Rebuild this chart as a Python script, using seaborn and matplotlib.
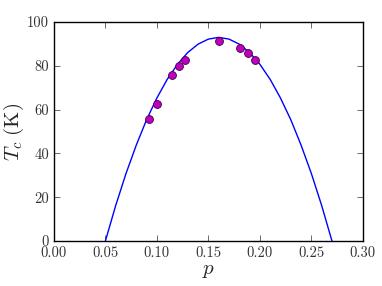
import matplotlib
matplotlib.use("Agg")
import matplotlib.pyplot as plt
import seaborn as sns
import pandas as pd

# measured data points
p_data = [0.092, 0.100, 0.115, 0.121, 0.127, 0.160, 0.181, 0.188, 0.195]
tc_data = [55.8, 62.7, 75.7, 79.8, 82.8, 91.2, 88.3, 85.7, 82.5]

# dome curve
p_curve = [0.05, 0.06, 0.07, 0.08, 0.09, 0.10, 0.11, 0.12, 0.13, 0.14, 0.15,
           0.16, 0.17, 0.18, 0.19, 0.20, 0.21, 0.22, 0.23, 0.24, 0.25, 0.26, 0.27]
tc_curve = [0.0, 16.2, 30.8, 43.8, 55.4, 65.3, 73.8, 80.7, 86.1, 89.9, 92.2,
            93.0, 92.2, 89.9, 86.1, 80.7, 73.8, 65.3, 55.4, 43.8, 30.8, 16.2, 0.0]

xticks = [0.00, 0.05, 0.10, 0.15, 0.20, 0.25, 0.30]
yticks = [0, 20, 40, 60, 80, 100]

sns.set_style("ticks")
plt.rcParams.update({
    "font.family": ["cmr10", "DejaVu Serif"],
    "mathtext.fontset": "cm",
    "axes.formatter.use_mathtext": True,
    "axes.edgecolor": "black",
    "axes.linewidth": 1.0,
    "xtick.direction": "in",
    "ytick.direction": "in",
    "xtick.top": True,
    "ytick.right": True,
    "xtick.major.size": 4,
    "ytick.major.size": 4,
    "xtick.major.width": 0.6,
    "ytick.major.width": 0.6,
    "xtick.color": "#555555",
    "ytick.color": "#555555",
    "xtick.labelcolor": "#333333",
    "ytick.labelcolor": "#333333",
    "xtick.labelsize": 10.5,
    "ytick.labelsize": 10.5,
})

fig = plt.figure(figsize=(3.82, 2.86), dpi=100)
ax = fig.add_axes([0.141, 0.157, 0.809, 0.766])

curve = pd.DataFrame({"p": p_curve, "Tc": tc_curve})
pts = pd.DataFrame({"p": p_data, "Tc": tc_data})

sns.lineplot(data=curve, x="p", y="Tc", ax=ax, color="blue", linewidth=1.0, sort=False)
sns.scatterplot(data=pts, x="p", y="Tc", ax=ax, color="#c000c0", edgecolor="#400040",
                linewidth=0.6, s=32, zorder=3)

ax.set_xlim(0, 0.30)
ax.set_ylim(0, 100)
ax.set_xticks(xticks)
ax.set_yticks(yticks)
ax.set_xticklabels([f"{t:.2f}" for t in xticks])
ax.set_yticklabels([str(t) for t in yticks])
ax.set_xlabel(r"$p$", fontsize=15, labelpad=2)
ax.set_ylabel(r"$T_c\ \mathrm{(K)}$", fontsize=15)
ax.yaxis.set_label_coords(-0.09, 0.5)

fig.savefig("out.png", dpi=100)
